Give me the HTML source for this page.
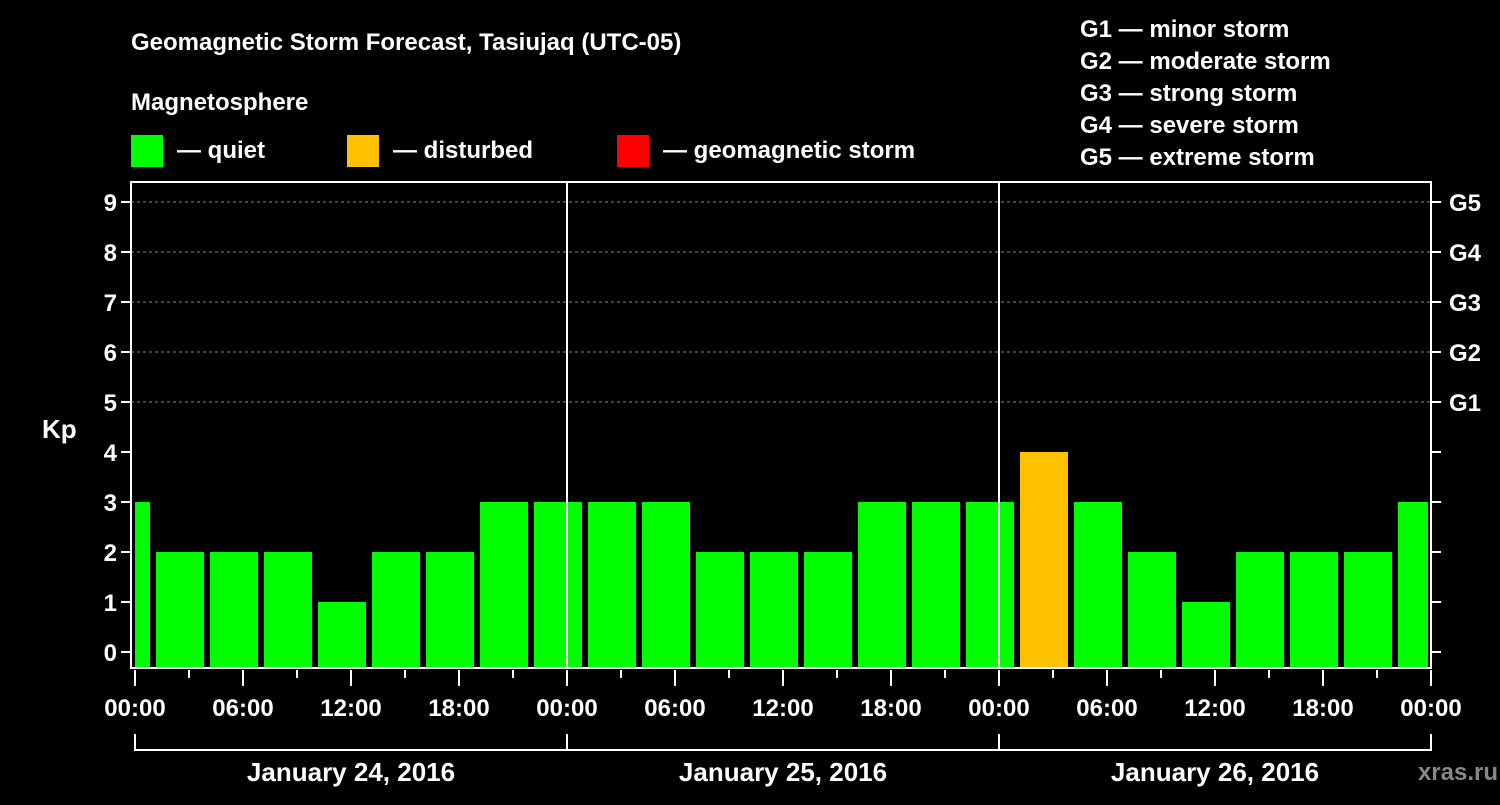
<!DOCTYPE html>
<html><head><meta charset="utf-8"><style>
body{margin:0;background:#000;}
svg text{font-family:"Liberation Sans",Arial,sans-serif;font-weight:bold;fill:#fff;}
</style></head><body>
<svg id="c" width="1500" height="800" xmlns="http://www.w3.org/2000/svg">
<rect width="1500" height="800" fill="#000"/>
<text x="131" y="50" font-size="24">Geomagnetic Storm Forecast, Tasiujaq (UTC-05)</text>
<text x="131" y="110" font-size="24">Magnetosphere</text>
<g><rect x="131" y="135" width="32" height="32" fill="#00ff00"/><text x="177" y="158" font-size="24">— quiet</text></g>
<g><rect x="347" y="135" width="32" height="32" fill="#ffc000"/><text x="393" y="158" font-size="24">— disturbed</text></g>
<g><rect x="617" y="135" width="32" height="32" fill="#ff0000"/><text x="663" y="158" font-size="24">— geomagnetic storm</text></g>
<g font-size="24">
<text x="1080" y="37">G1 — minor storm</text>
<text x="1080" y="69">G2 — moderate storm</text>
<text x="1080" y="101">G3 — strong storm</text>
<text x="1080" y="133">G4 — severe storm</text>
<text x="1080" y="165">G5 — extreme storm</text>
</g>
<text x="42" y="438" font-size="26">Kp</text>
<text x="1498" y="780" font-size="24" text-anchor="end" fill="#888" style="fill:#888">xras.ru</text>
<g id="plot"></g>
</svg>
<script>
const kpValues=[3,2,2,2,1,2,2,3,3,3,3,2,2,2,3,3,3,4,3,2,1,2,2,2,3];
const yTicks=[0,1,2,3,4,5,6,7,8,9];
const gLabels=["G1","G2","G3","G4","G5"];
const xTickLabels=["00:00","06:00","12:00","18:00","00:00","06:00","12:00","18:00","00:00","06:00","12:00","18:00","00:00"];
const dayLabels=["January 24, 2016","January 25, 2016","January 26, 2016"];
const L=131,R=1431,T=182,B=668,X0=135;
const xs=h=>X0+h*18;
const ys=v=>652-v*50;
const g=document.getElementById('plot');
const NS='http://www.w3.org/2000/svg';
function mk(t,a){const e=document.createElementNS(NS,t);for(const k in a)e.setAttribute(k,a[k]);g.appendChild(e);return e;}
yTicks.forEach(v=>{
 if(v>=5){const l=mk('line',{x1:L,x2:R,y1:ys(v),y2:ys(v),stroke:'#888','stroke-dasharray':'3,3'});
 
 }
 const t=mk('line',{x1:L-10,x2:L,y1:ys(v),y2:ys(v),stroke:'#fff','stroke-width':2});
 
 
 const t2=mk('line',{x1:R,x2:R+10,y1:ys(v),y2:ys(v),stroke:'#fff','stroke-width':2});
 
 
 const tx=mk('text',{x:L-14,y:ys(v)+9,'font-size':24,'text-anchor':'end'});tx.textContent=v;
 
 
});
gLabels.forEach((s,i)=>{const tx=mk('text',{x:1449,y:ys(5+i)+9,'font-size':24});tx.textContent=s;
 
 });
kpValues.forEach((v,k)=>{
 let x1=xs(3*k-2)+3,x2=xs(3*k+1)-3;
 x1=Math.max(x1,X0);x2=Math.min(x2,R-3);
 const c=v>=5?'#ff0000':(v>=4?'#ffc000':'#00ff00');
 const r=mk('rect',{x:x1,y:ys(v),width:x2-x1,height:B-ys(v),fill:c});
 
 
});
[1,2].forEach(d=>{const l=mk('line',{x1:xs(24*d),x2:xs(24*d),y1:T,y2:B,stroke:'#fff','stroke-width':2});
 
 });
const f=mk('rect',{x:L,y:T,width:R-L,height:B-T,fill:'none',stroke:'#fff','stroke-width':2});


for(let h=0;h<=72;h+=3){const maj=h%6==0;
 const l=mk('line',{x1:xs(h),x2:xs(h),y1:B+2,y2:B+(maj?18:10),stroke:'#fff','stroke-width':2});
 
 }
xTickLabels.forEach((s,i)=>{const tx=mk('text',{x:xs(6*i),y:716,'font-size':24,'text-anchor':'middle'});tx.textContent=s;
 
 });
const br=mk('path',{d:`M${xs(0)},734V750H${xs(72)}V734M${xs(24)},734V750M${xs(48)},734V750`,stroke:'#fff','stroke-width':2,fill:'none'});


dayLabels.forEach((s,i)=>{const tx=mk('text',{x:xs(24*i+12),y:781,'font-size':26,'text-anchor':'middle'});tx.textContent=s;
 
 });
</script>
</body></html>
